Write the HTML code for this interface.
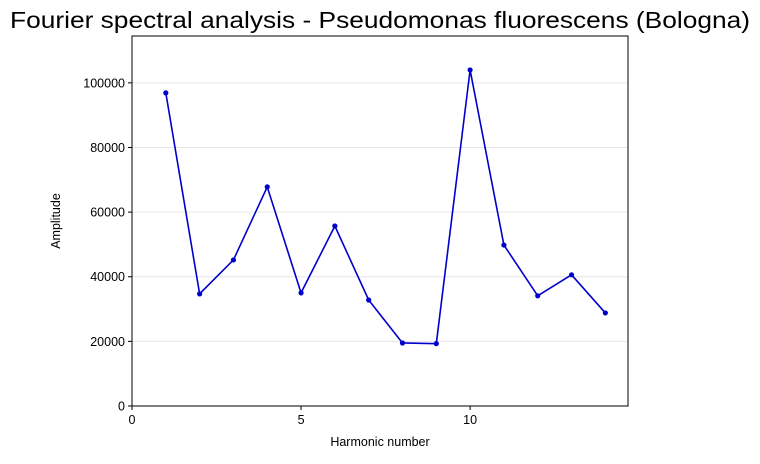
<!DOCTYPE html>
<html><head><meta charset="utf-8"><style>
body{margin:0;background:#fff;font-family:"Liberation Sans","DejaVu Sans",sans-serif;}
</style></head><body>
<svg id="chart" width="760" height="459" xmlns="http://www.w3.org/2000/svg">
<text x="380" y="28" text-anchor="middle" font-size="23" textLength="740" lengthAdjust="spacingAndGlyphs">Fourier spectral analysis - Pseudomonas fluorescens (Bologna)</text>
<g id="grid"></g>
<g id="series"></g>
<rect x="132" y="36" width="496" height="370" fill="none" stroke="#000" stroke-width="1"/>
<g id="axes" font-size="12.5"></g>
<text x="380" y="446" text-anchor="middle" font-size="12.5">Harmonic number</text>
<text transform="translate(60,221) rotate(-90)" text-anchor="middle" font-size="12.5">Amplitude</text>
</svg>
<script>
const harmonics=[1,2,3,4,5,6,7,8,9,10,11,12,13,14];
const amplitudes=[96900,34700,45200,67800,35000,55700,32800,19500,19300,104000,49800,34100,40600,28800];
const xTicks=[0,5,10];
const yTicks=[0,20000,40000,60000,80000,100000];
const L=132,R=628,T=36,B=406,XMAX=14.67,YMAX=114500;
const NS="http://www.w3.org/2000/svg";
const sx=v=>L+v/XMAX*(R-L);
const sy=v=>B-v/YMAX*(B-T);
function mk(t,a,p){const e=document.createElementNS(NS,t);for(const k in a)e.setAttribute(k,a[k]);p.appendChild(e);return e;}
const grid=document.getElementById('grid'),axes=document.getElementById('axes'),ser=document.getElementById('series');
yTicks.forEach(v=>{
 const y=sy(v);
 const g=mk('line',{x1:L,x2:R,y1:y,y2:y,stroke:'#e6e6e6','stroke-width':1},grid);
 
 
 const t=mk('line',{x1:L-4,x2:L,y1:y,y2:y,stroke:'#000'},axes);
 
 
 const l=mk('text',{x:L-7,y:y+4.5,'text-anchor':'end'},axes);l.textContent=v;
 
 
});
xTicks.forEach(v=>{
 const x=sx(v);
 const t=mk('line',{x1:x,x2:x,y1:B,y2:B+4,stroke:'#000'},axes);
 
 
 const l=mk('text',{x:x,y:B+18,'text-anchor':'middle'},axes);l.textContent=v;
 
 
});
const pts=harmonics.map((h,i)=>sx(h)+','+sy(amplitudes[i])).join(' ');
const pl=mk('polyline',{points:pts,fill:'none',stroke:'#0000cc','stroke-width':1.6},ser);


harmonics.forEach((h,i)=>{
 const c=mk('circle',{cx:sx(h),cy:sy(amplitudes[i]),r:2.6,fill:'#0000cc'},ser);
 
 
});
</script>
</body></html>
